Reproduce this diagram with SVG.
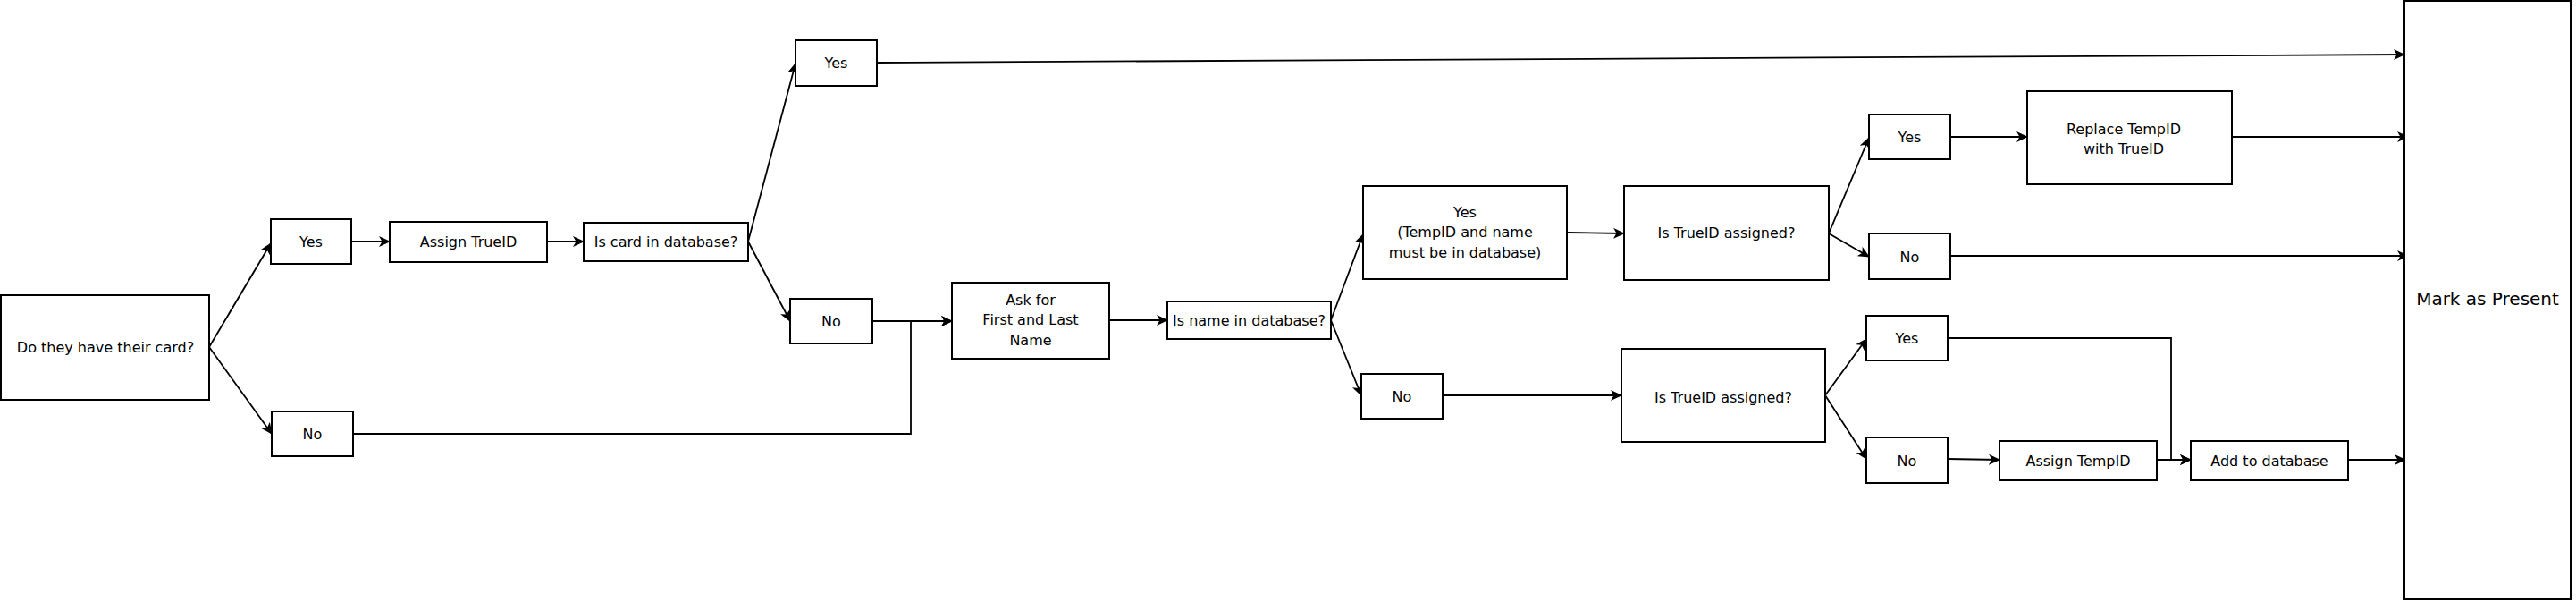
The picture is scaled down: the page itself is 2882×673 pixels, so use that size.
<svg xmlns="http://www.w3.org/2000/svg" width="2882" height="673" viewBox="0 0 2882 673">
<style>
.box{fill:#ffffff;stroke:#000000;stroke-width:2}
.t{font-family:"DejaVu Sans","Verdana",sans-serif;font-size:16px;fill:#000000;text-anchor:middle;dominant-baseline:central}
.big{font-size:20px}
.c{fill:none;stroke:#000000;stroke-width:1.8;marker-end:url(#arr)}
</style>
<defs>
<marker id="arr" markerUnits="userSpaceOnUse" markerWidth="14" markerHeight="12" refX="12" refY="6" orient="auto">
<path d="M0,0 L13,6 L0,12 L3.5,6 Z" fill="#000000"/>
</marker>
</defs>
<rect width="2882" height="673" fill="#ffffff"/>
<g id="connectors">
<path class="c" d="M234,388 L303,272"/>
<path class="c" d="M234,388 L304,485"/>
<path class="c" d="M393,270 L436,270"/>
<path class="c" d="M612,270 L653,270"/>
<path class="c" d="M837,270 L890,71"/>
<path class="c" d="M837,270 L884,359"/>
<path class="c" d="M981,70 L2690,61"/>
<path class="c" d="M976,359 L1065,359"/>
<path class="c" d="M395,485 H1019 V359 H1065"/>
<path class="c" d="M1241,358 L1306,358"/>
<path class="c" d="M1489,358 L1525,262"/>
<path class="c" d="M1489,358 L1523,442"/>
<path class="c" d="M1753,260 L1817,261"/>
<path class="c" d="M1614,442 L1814,442"/>
<path class="c" d="M2046,261 L2091,154"/>
<path class="c" d="M2046,261 L2091,287"/>
<path class="c" d="M2182,153 L2268,153"/>
<path class="c" d="M2497,153 L2694,153"/>
<path class="c" d="M2182,286 L2694,286"/>
<path class="c" d="M2042,442 L2088,379"/>
<path class="c" d="M2042,442 L2088,513"/>
<path class="c" d="M2179,378 H2429 V514 H2451"/>
<path class="c" d="M2179,513 L2237,514"/>
<path class="c" d="M2413,514 L2451,514"/>
<path class="c" d="M2627,514 L2691,514"/>
</g>
<g id="n-card"><rect class="box" x="1" y="330" width="233" height="117"/><text class="t" x="118" y="388">Do they have their card?</text></g>
<g id="n-yes1"><rect class="box" x="303" y="245" width="90" height="50"/><text class="t" x="348" y="270">Yes</text></g>
<g id="n-no1"><rect class="box" x="304" y="460" width="91" height="50"/><text class="t" x="349.5" y="485">No</text></g>
<g id="n-assign-trueid"><rect class="box" x="436" y="248" width="176" height="45"/><text class="t" x="524" y="270">Assign TrueID</text></g>
<g id="n-card-db"><rect class="box" x="653" y="249" width="184" height="43"/><text class="t" x="745" y="270">Is card in database?</text></g>
<g id="n-yes2"><rect class="box" x="890" y="45" width="91" height="51"/><text class="t" x="935.5" y="70.5">Yes</text></g>
<g id="n-no2"><rect class="box" x="884" y="334" width="92" height="50"/><text class="t" x="930" y="359">No</text></g>
<g id="n-ask"><rect class="box" x="1065" y="316" width="176" height="85"/><text class="t" x="1153" y="335">Ask for</text><text class="t" x="1153" y="357.5">First and Last</text><text class="t" x="1153" y="380">Name</text></g>
<g id="n-name-db"><rect class="box" x="1306" y="337" width="183" height="42"/><text class="t" x="1397.5" y="358">Is name in database?</text></g>
<g id="n-yes3"><rect class="box" x="1525" y="208" width="228" height="104"/><text class="t" x="1639" y="237">Yes</text><text class="t" x="1639" y="259.5">(TempID and name</text><text class="t" x="1639" y="282">must be in database)</text></g>
<g id="n-no3"><rect class="box" x="1523" y="418" width="91" height="50"/><text class="t" x="1568.5" y="443">No</text></g>
<g id="n-trueid1"><rect class="box" x="1817" y="208" width="229" height="105"/><text class="t" x="1931.5" y="260">Is TrueID assigned?</text></g>
<g id="n-trueid2"><rect class="box" x="1814" y="390" width="228" height="104"/><text class="t" x="1928" y="444">Is TrueID assigned?</text></g>
<g id="n-yes4"><rect class="box" x="2091" y="128" width="91" height="50"/><text class="t" x="2136.5" y="153">Yes</text></g>
<g id="n-no4"><rect class="box" x="2091" y="261" width="91" height="51"/><text class="t" x="2136.5" y="287">No</text></g>
<g id="n-replace"><rect class="box" x="2268" y="102" width="229" height="104"/><text class="t" x="2376" y="144">Replace TempID</text><text class="t" x="2376" y="166.5">with TrueID</text></g>
<g id="n-yes5"><rect class="box" x="2088" y="353" width="91" height="50"/><text class="t" x="2133.5" y="378">Yes</text></g>
<g id="n-no5"><rect class="box" x="2088" y="489" width="91" height="51"/><text class="t" x="2133.5" y="515">No</text></g>
<g id="n-assign-tempid"><rect class="box" x="2237" y="493" width="176" height="44"/><text class="t" x="2325" y="515">Assign TempID</text></g>
<g id="n-add-db"><rect class="box" x="2451" y="493" width="176" height="44"/><text class="t" x="2539" y="515">Add to database</text></g>
<g id="n-present"><rect class="box" x="2690" y="1" width="186" height="669"/><text class="t big" x="2783" y="334">Mark as Present</text></g>
</svg>
